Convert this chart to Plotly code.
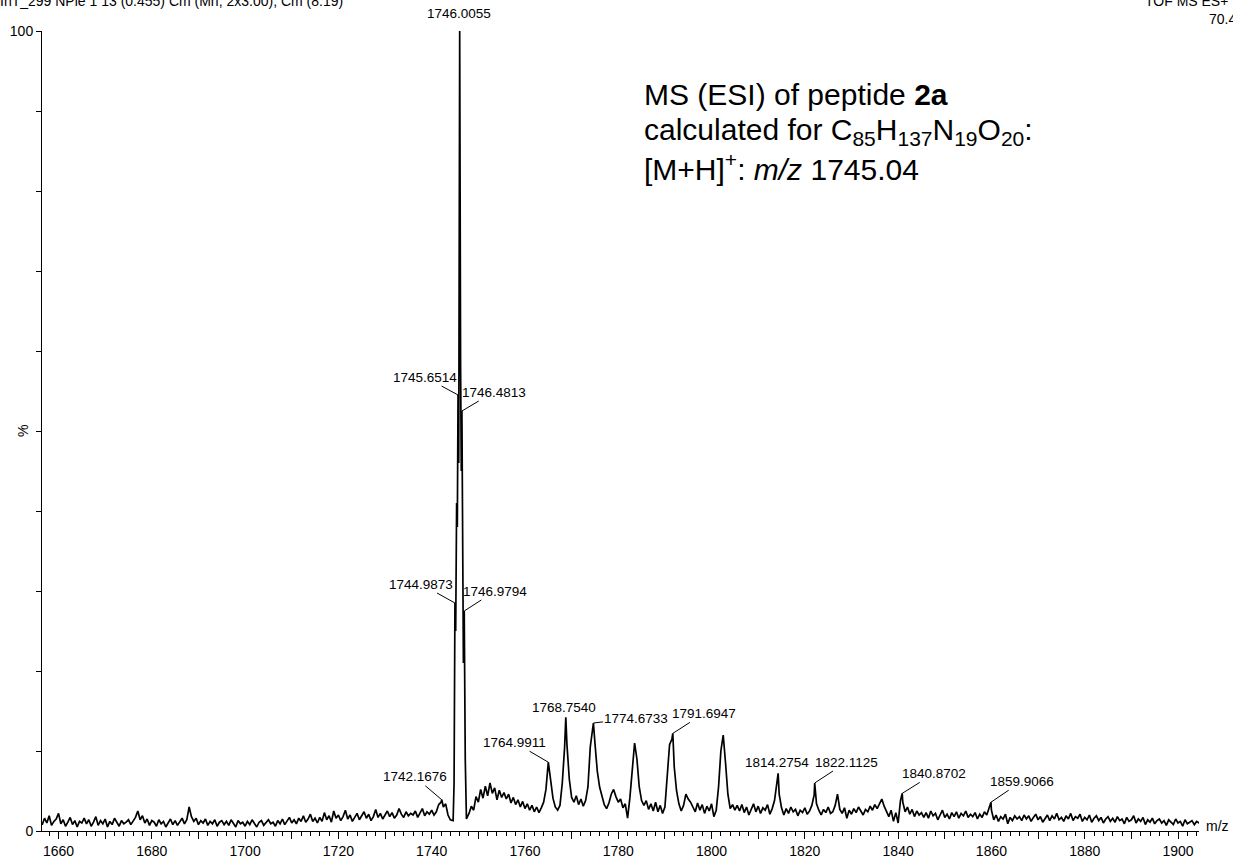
import numpy as np
import plotly.graph_objects as go

# ---------------- data ----------------
# sampled baseline / spectrum trace left of the main isotope cluster (m/z 1656.0 .. 1744.0, step 0.5)
left_mz_start = 1656.0
left_mz_step = 0.5
left_pct = [
    1.3, 0.8, 1.6, 1.0, 1.9, 0.7, 1.2, 1.5, 2.2, 0.9, 1.4, 0.6, 1.1, 1.7, 0.8, 1.3, 0.5, 1.2, 1.0, 1.6,
    0.9, 1.4, 0.6, 1.1, 1.8, 0.7, 1.3, 0.9, 1.5, 0.5, 1.2, 0.8, 1.6, 1.0, 0.6, 1.3, 0.9, 1.1, 1.4, 0.8,
    1.2, 1.7, 2.5, 1.4, 1.9, 1.0, 1.5, 0.7, 1.3, 1.1, 0.6, 1.4, 0.9, 1.2, 0.5, 1.0, 1.5, 0.8, 1.3, 0.7,
    1.1, 1.6, 0.9, 1.4, 3.0, 1.8, 1.2, 1.6, 0.8, 1.3, 1.0, 1.5, 0.7, 1.2, 0.9, 1.4, 0.6, 1.1, 1.3, 0.8,
    1.2, 0.7, 1.4, 1.0, 0.5, 1.3, 0.9, 1.1, 0.6, 1.2, 0.8, 1.4, 1.0, 0.5, 1.1, 1.3, 0.7, 1.0, 1.4, 0.9,
    1.1, 0.6, 1.3, 0.9, 1.5, 0.8, 1.2, 1.7, 1.0, 1.4, 0.9, 1.6, 1.2, 1.9, 1.1, 1.5, 2.1, 1.2, 1.6, 1.0,
    1.7, 1.2, 2.3, 1.4, 1.9, 1.1, 2.5, 1.6, 2.0, 1.3, 1.8, 2.6, 1.5, 2.0, 1.2, 1.7, 2.2, 1.4, 1.9, 2.4,
    1.6, 2.1, 1.3, 1.8, 2.7, 1.7, 2.2, 1.5, 2.0, 2.5, 1.8, 2.3, 1.6, 2.0, 2.8, 2.1, 1.7, 2.4, 1.9, 2.2,
    2.0, 2.5, 1.7, 2.2, 2.8, 1.9, 2.4, 2.1, 2.6, 2.0, 2.4, 3.3, 3.6, 3.0, 3.4, 2.0, 1.4,
]

# main isotope cluster shape points (between the labelled isotope peaks)
main_mz = [1744.6, 1744.8, 1745.15, 1745.35, 1745.5, 1745.8, 1746.2, 1746.35, 1746.65, 1746.8, 1747.2, 1747.45]
main_pct = [1.3, 6.0, 25.0, 41.0, 38.0, 46.0, 58.0, 45.0, 38.0, 21.0, 9.0, 1.5]

# sampled trace right of the cluster (m/z 1748.0 .. 1905.5, step 0.5)
right_mz_start = 1748.0
right_mz_step = 0.5
right_pct = [
    2.2, 3.1, 2.6, 4.3, 3.6, 5.2, 4.1, 5.6, 4.4, 6.0, 4.7, 5.4, 3.9, 5.1, 4.2, 4.8,
    4.0, 4.6, 3.5, 4.2, 3.3, 3.9, 3.0, 3.7, 2.8, 3.4, 2.6, 3.2, 2.4, 3.0, 2.3, 2.9, 3.6, 5.2, 8.6, 6.4,
    4.1, 3.0, 2.6, 3.2, 6.0, 10.5, 10.8, 6.5, 4.2, 3.6, 4.4, 3.3, 4.0, 3.1, 3.8, 5.5, 10.5, 12.6, 11.0, 7.5,
    5.5, 4.2, 3.3, 2.8, 3.5, 4.6, 5.2, 4.3, 3.6, 4.0, 2.9, 3.4, 1.6, 4.2, 7.5, 11.0, 9.0, 5.5, 3.8, 3.2,
    3.8, 2.7, 3.4, 2.5, 3.6, 2.4, 3.2, 2.2, 3.0, 6.5, 10.8, 11.5, 8.0, 5.0, 3.4, 2.5, 3.2, 4.6, 4.0, 3.6,
    3.0, 2.4, 3.5, 2.6, 3.3, 2.2, 3.1, 2.5, 3.4, 1.8, 2.6, 5.5, 10.0, 12.0, 8.5, 4.6, 2.8, 3.3, 2.6, 3.2,
    2.5, 3.3, 2.3, 3.0, 2.0, 2.8, 3.4, 2.4, 3.1, 2.2, 2.9, 2.6, 3.3, 2.1, 2.8, 3.8, 6.2, 4.6, 2.9, 2.0,
    2.8, 2.2, 3.0, 2.4, 2.7, 1.9, 2.6, 2.3, 2.9, 2.1, 2.5, 3.2, 4.5, 3.4, 2.6, 2.0, 2.7, 2.3, 3.0, 2.2,
    2.4, 3.2, 4.6, 2.7, 2.2, 2.9, 1.6, 2.6, 2.1, 2.8, 2.3, 3.0, 2.5, 2.0, 2.7, 2.4, 3.1, 2.6, 3.3, 2.8,
    3.4, 4.0, 3.1, 2.4, 1.8, 2.6, 1.2, 2.3, 1.0, 3.8, 3.6, 2.4, 3.0, 2.1, 2.7, 1.8, 2.5, 2.0, 2.3, 1.7,
    2.3, 1.6, 2.5, 1.9, 2.2, 1.4, 2.0, 2.6, 1.7, 2.1, 1.5, 2.3, 1.8, 2.4, 1.6, 2.2, 1.9, 2.5, 1.7, 2.1,
    1.8, 2.3, 1.5, 2.1, 1.7, 2.4, 2.0, 3.0, 2.6, 1.4, 2.0, 1.2, 1.8, 1.5, 2.1, 0.9, 1.7, 1.3, 1.9, 1.5,
    1.8, 1.3, 2.0, 1.5, 1.9, 1.2, 1.7, 2.1, 1.4, 1.8, 1.1, 1.6, 2.0, 1.3, 1.9, 1.5, 2.2, 1.4, 1.7, 1.2,
    1.9, 1.5, 2.2, 1.3, 1.8, 1.6, 2.1, 1.2, 1.7, 1.4, 2.0, 1.1, 1.6, 1.9, 1.3, 1.7, 1.0, 1.5, 1.8, 1.2,
    1.6, 1.1, 1.8, 1.3, 1.5, 0.9, 1.7, 1.2, 1.4, 1.9, 1.0, 1.5, 1.2, 1.7, 0.8, 1.4, 1.1, 1.6, 0.9, 1.3,
    1.5, 1.0, 1.3, 0.7, 1.4, 1.1, 0.8, 1.5, 1.0, 1.2, 0.6, 1.4, 0.9, 1.1, 1.3, 0.8, 1.2, 1.0, 1.4, 0.9,
]

# labelled peaks
peak_mz = [1742.1676, 1744.9873, 1745.6514, 1746.0055, 1746.4813, 1746.9794, 1764.9911,
           1768.7540, 1774.6733, 1791.6947, 1814.2754, 1822.1125, 1840.8702, 1859.9066]
peak_pct = [3.9, 28.5, 54.5, 100.0, 52.5, 27.5, 8.6, 14.2, 13.5, 12.2, 7.2, 6.0, 4.7, 3.6]
peak_text = ["1742.1676", "1744.9873", "1745.6514", "1746.0055", "1746.4813", "1746.9794", "1764.9911",
             "1768.7540", "1774.6733", "1791.6947", "1814.2754", "1822.1125", "1840.8702", "1859.9066"]

x_tick_vals = [1660, 1670, 1680, 1690, 1700, 1710, 1720, 1730, 1740, 1750, 1760, 1770, 1780,
               1790, 1800, 1810, 1820, 1830, 1840, 1850, 1860, 1870, 1880, 1890, 1900]
x_tick_text = ["1660", "", "1680", "", "1700", "", "1720", "", "1740", "", "1760", "", "1780",
               "", "1800", "", "1820", "", "1840", "", "1860", "", "1880", "", "1900"]
y_tick_vals = [0, 10, 20, 30, 40, 50, 60, 70, 80, 90, 100]
y_tick_text = ["0", "", "", "", "", "", "", "", "", "", "100"]

# ---------------- label placement (pixel offsets of text centre from the peak) ----------------
label_offsets = [(-27, -23), (-34, -19), (-33, -18), (-1, -18), (32, -19), (31, -20), (-34, -20),
                 (-2, -10), (43, -5), (31, -20), (-1, -11), (32, -21), (32, -20), (31, -21)]
label_leader = [True, True, True, False, True, True, True, False, True, True, False, True, True, True]

# ---------------- assemble trace ----------------
left_mz = left_mz_start + left_mz_step * np.arange(len(left_pct))
right_mz = right_mz_start + right_mz_step * np.arange(len(right_pct))
all_mz = np.concatenate([left_mz, np.array(main_mz), np.array(peak_mz), right_mz])
all_pct = np.concatenate([np.array(left_pct), np.array(main_pct), np.array(peak_pct), np.array(right_pct)])
order = np.argsort(all_mz)
all_mz = all_mz[order]
all_pct = all_pct[order]

W, H = 1233, 859
ML, MR, MT, MB = 42, 34, 31, 28
PW, PH = W - ML - MR, H - MT - MB
X_RANGE = [1656.46, 1904.5]

FONT = "Liberation Sans, Arial, Helvetica, sans-serif"


def px_to_paper(px, py):
    return (px - ML) / PW, (H - MB - py) / PH


fig = go.Figure()
fig.add_trace(go.Scatter(x=all_mz, y=all_pct, mode="lines",
                         line=dict(color="black", width=1.7), hoverinfo="skip", showlegend=False))

annotations = []
for m, p, t, (ax, ay), lead in zip(peak_mz, peak_pct, peak_text, label_offsets, label_leader):
    annotations.append(dict(
        x=m, y=p, xref="x", yref="y", text=t, showarrow=True,
        arrowhead=0, arrowwidth=1, arrowcolor="black" if lead else "rgba(0,0,0,0)",
        ax=ax, ay=ay, standoff=0, startstandoff=0,
        font=dict(family=FONT, size=13.5, color="black"),
    ))

# big description text
desc_lines = [
    "MS (ESI) of peptide <b>2a</b>",
    "calculated for C<sub>85</sub>H<sub>137</sub>N<sub>19</sub>O<sub>20</sub>:",
    "[M+H]<sup>+</sup>: <i>m/z</i> 1745.04",
]
desc_y = [95, 132, 167]
for line, yy in zip(desc_lines, desc_y):
    xp, yp = px_to_paper(642, yy)
    annotations.append(dict(x=xp, y=yp, xref="paper", yref="paper", text=line, showarrow=False,
                            xanchor="left", yanchor="middle",
                            font=dict(family=FONT, size=30, color="black")))

# header texts (partially cut off at figure edges)
for txt, px, py in [("InT_299 NPle 1 13 (0.455) Cm (Mn, 2x3.00); Cm (8:19)", -2, 1),
                    ("TOF MS ES+", 1143, 1), ("70.4", 1207, 19)]:
    xp, yp = px_to_paper(px, py)
    annotations.append(dict(x=xp, y=yp, xref="paper", yref="paper", text=txt, showarrow=False,
                            xanchor="left", yanchor="middle",
                            font=dict(family=FONT, size=14, color="black")))

# axis captions
xp, yp = px_to_paper(1217, 826)
annotations.append(dict(x=xp, y=yp, xref="paper", yref="paper", text="m/z", showarrow=False,
                        xanchor="center", yanchor="middle", font=dict(family=FONT, size=14, color="black")))
xp, yp = px_to_paper(23, 431)
annotations.append(dict(x=xp, y=yp, xref="paper", yref="paper", text="%", showarrow=False, textangle=-90,
                        xanchor="center", yanchor="middle", font=dict(family=FONT, size=14, color="black")))

fig.update_layout(
    width=W, height=H,
    margin=dict(l=ML, r=MR, t=MT, b=MB, pad=0),
    paper_bgcolor="white", plot_bgcolor="white",
    font=dict(family=FONT, size=14, color="black"),
    annotations=annotations,
    showlegend=False,
    xaxis=dict(range=X_RANGE, showgrid=False, zeroline=False, showline=True, linecolor="black", linewidth=1,
               ticks="outside", ticklen=7, tickwidth=1, tickcolor="black",
               tickmode="array", tickvals=x_tick_vals, ticktext=x_tick_text,
               tickfont=dict(family=FONT, size=14, color="black"),
               minor=dict(ticks="outside", ticklen=4, tickwidth=1, tickcolor="black", dtick=2, tick0=1660,
                          showgrid=False),
               automargin=False),
    yaxis=dict(range=[0, 100], showgrid=False, zeroline=False, showline=True, linecolor="black", linewidth=1,
               ticks="outside", ticklen=5, tickwidth=1, tickcolor="black",
               tickmode="array", tickvals=y_tick_vals, ticktext=y_tick_text,
               tickfont=dict(family=FONT, size=14, color="black"),
               automargin=False),
)

fig.write_html("out.html", config={"displayModeBar": False},
               post_script="document.body.style.margin='0';")
